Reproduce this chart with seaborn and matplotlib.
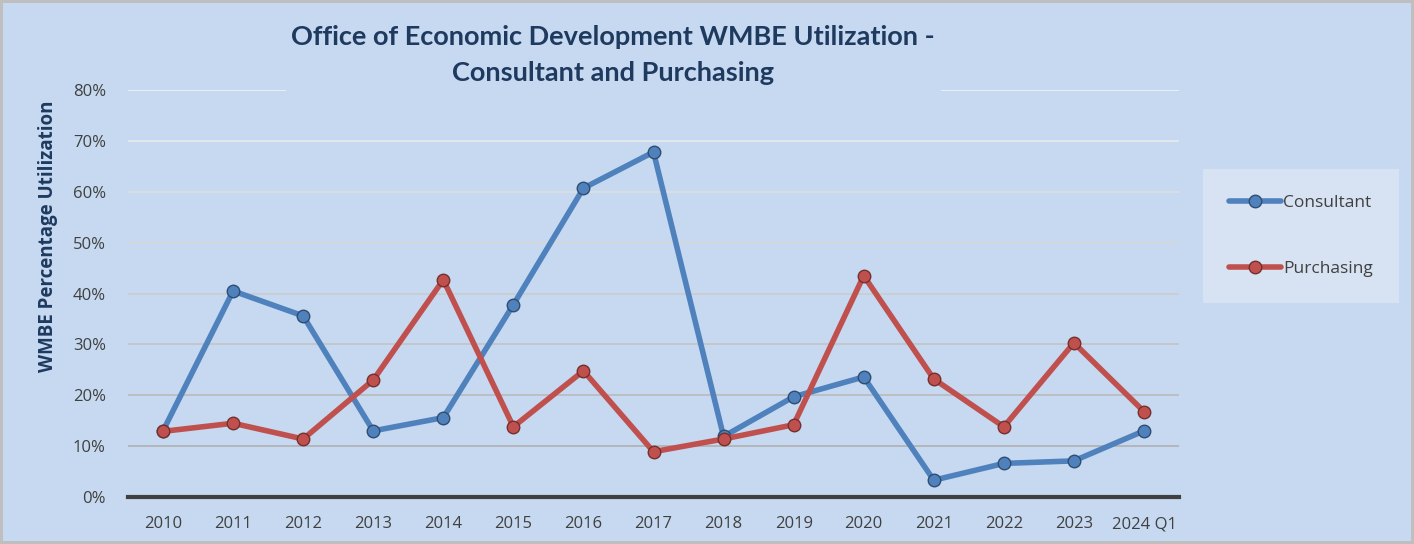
import matplotlib
matplotlib.use("Agg")
import matplotlib.pyplot as plt
import seaborn as sns
import pandas as pd
import numpy as np

categories = ["2010", "2011", "2012", "2013", "2014", "2015", "2016", "2017",
              "2018", "2019", "2020", "2021", "2022", "2023", "2024 Q1"]
consultant = [13.0, 40.5, 35.6, 13.0, 15.6, 37.8, 60.7, 67.8, 11.9, 19.7,
              23.6, 3.3, 6.6, 7.1, 13.0]
purchasing = [12.9, 14.5, 11.4, 23.0, 42.7, 13.8, 24.8, 8.9, 11.4, 14.2,
              43.5, 23.2, 13.8, 30.3, 16.8]
series_names = ["Consultant", "Purchasing"]
yticks = [0, 10, 20, 30, 40, 50, 60, 70, 80]

BG = "#C6D9F0"
NAVY = "#1F3A5F"
GRAY = "#404040"
palette = {"Consultant": "#4F81BD", "Purchasing": "#C0504D"}

df = pd.DataFrame({
    "Year": categories * 2,
    "Value": consultant + purchasing,
    "Series": [series_names[0]] * len(categories) + [series_names[1]] * len(categories),
})

sns.set_style("white")
plt.rcParams["font.family"] = ["Open Sans", "DejaVu Sans"]

fig = plt.figure(figsize=(14.14, 5.44), dpi=100)
fig.patch.set_facecolor(BG)
fig.patch.set_edgecolor("#BFBFBF")
fig.patch.set_linewidth(3)
ax = fig.add_axes([128 / 1414, 1 - 497 / 544, (1179 - 128) / 1414, (497 - 90) / 544])
ax.set_facecolor(BG)

sns.lineplot(data=df, x="Year", y="Value", hue="Series", palette=palette,
             marker="o", markersize=9, linewidth=4, sort=False, ax=ax, zorder=3)
for line in ax.lines:
    c = line.get_color()
    line.set_markeredgecolor(matplotlib.colors.to_hex(np.array(matplotlib.colors.to_rgb(c)) * 0.6))
    line.set_markeredgewidth(1.0)

ax.set_xlim(-0.5, len(categories) - 0.5)
ax.set_ylim(0, 80)
ax.set_yticks(yticks)
ax.set_yticklabels([f"{t}%" for t in yticks])
ax.set_xlabel("")
ax.set_ylabel("")
ax.tick_params(axis="both", length=0, labelsize=12, labelcolor=GRAY)
ax.tick_params(axis="x", pad=14)
ax.tick_params(axis="y", pad=16)

ax.grid(axis="y", linewidth=1.2)
ax.set_axisbelow(True)
gl = ax.yaxis.get_gridlines()
n = len(gl)
for i, g in enumerate(gl):
    frac = i / max(n - 1, 1)
    c0 = np.array(matplotlib.colors.to_rgb("#A6A6A6"))
    c1 = np.array(matplotlib.colors.to_rgb("#F2F2F2"))
    g.set_color(c0 * (1 - frac) + c1 * frac)
for s in ["top", "right", "left"]:
    ax.spines[s].set_visible(False)
ax.spines["bottom"].set_color(GRAY)
ax.spines["bottom"].set_linewidth(3)
ax.spines["bottom"].set_zorder(4)

fig.text(613 / 1414, 1 - 55 / 544,
         "Office of Economic Development WMBE Utilization -\nConsultant and Purchasing",
         ha="center", va="center", fontsize=19.5, fontweight="bold", color=NAVY,
         family=["Lato", "DejaVu Sans"], linespacing=1.6,
         bbox=dict(facecolor=BG, edgecolor="none", pad=4), zorder=10)

fig.text(48 / 1414, 1 - 236 / 544, "WMBE Percentage Utilization", rotation=90,
         ha="center", va="center", fontsize=13.5, fontweight="bold", color=NAVY)

leg = ax.legend(loc="center", bbox_to_anchor=(1301 / 1414, 1 - 236 / 544),
                bbox_transform=fig.transFigure, frameon=True, fontsize=12.5,
                labelspacing=2.9, handlelength=3.0, handletextpad=0.1,
                borderpad=1.5, borderaxespad=0)
leg.get_frame().set_facecolor("#D7E3F2")
leg.get_frame().set_edgecolor("none")
leg.get_frame().set_alpha(1)
leg.get_frame().set_boxstyle("square", pad=0)
for t in leg.get_texts():
    t.set_color(GRAY)

fig.savefig("out.png", dpi=100, facecolor=fig.get_facecolor(), edgecolor=fig.get_edgecolor())
